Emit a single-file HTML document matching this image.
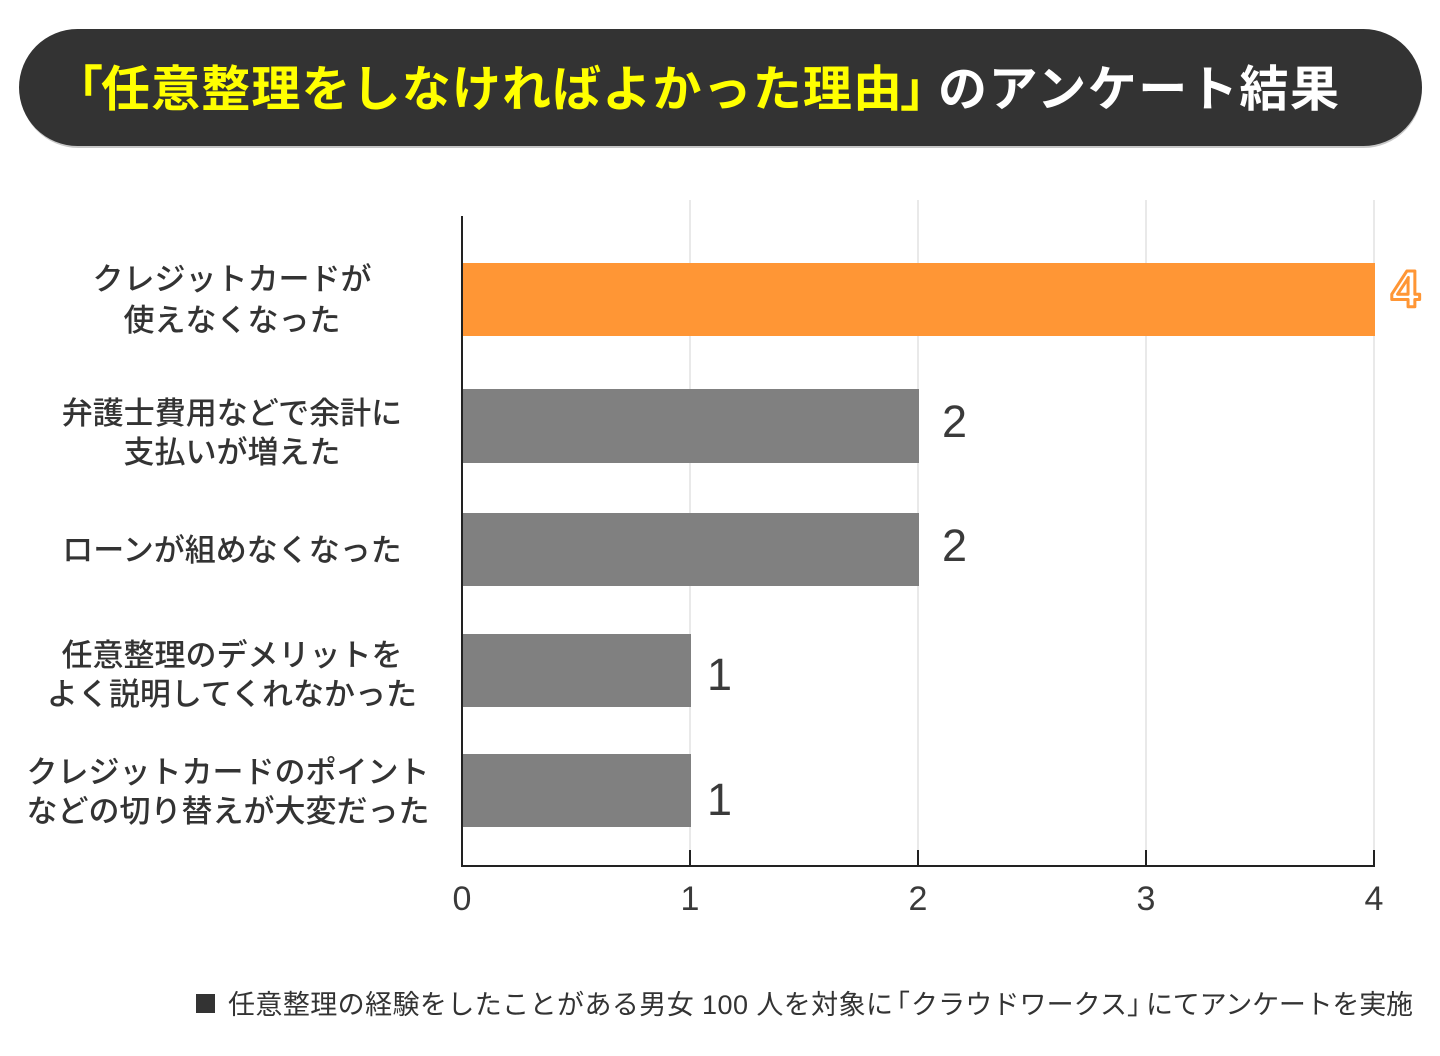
<!DOCTYPE html>
<html><head><meta charset="utf-8"><style>
html,body{margin:0;padding:0;background:#fff;}
svg{display:block;}
.jp{font-family:"Liberation Sans","Noto Sans CJK JP",sans-serif;}
.cj{font-family:"Noto Sans CJK JP",sans-serif;}
</style></head><body>
<svg width="1440" height="1056" viewBox="0 0 1440 1056" xmlns="http://www.w3.org/2000/svg">
<rect x="0" y="0" width="1440" height="1056" fill="#ffffff"/>
<!-- title pill -->
<rect x="20" y="31" width="1402" height="117" rx="58.5" ry="58.5" fill="#222" opacity="0.25"/>
<rect x="19" y="29" width="1403" height="117" rx="58.5" ry="58.5" fill="#333333"/>
<g class="jp" font-size="49" font-weight="bold">
<text x="54" y="106" fill="#ffff00">「</text>
<text x="101" y="106" fill="#ffff00" textLength="801" lengthAdjust="spacing">任意整理をしなければよかった理由</text>
<text x="900" y="106" fill="#ffff00">」</text>
<text x="938" y="106" fill="#ffffff" textLength="401" lengthAdjust="spacing">のアンケート結果</text>
</g>

<!-- gridlines -->
<g stroke="#e2e2e2" stroke-width="1.5">
<line x1="690" y1="200" x2="690" y2="850"/>
<line x1="918" y1="200" x2="918" y2="850"/>
<line x1="1146" y1="200" x2="1146" y2="850"/>
<line x1="1374" y1="200" x2="1374" y2="850"/>
</g>

<!-- bars -->
<rect x="463" y="263" width="912" height="73" fill="#ff9635"/>
<rect x="463" y="389" width="456" height="74" fill="#808080"/>
<rect x="463" y="513" width="456" height="73" fill="#808080"/>
<rect x="463" y="634" width="228" height="73" fill="#808080"/>
<rect x="463" y="754" width="228" height="73" fill="#808080"/>

<!-- axes -->
<g stroke="#222" stroke-width="2">
<line x1="462" y1="216" x2="462" y2="867"/>
<line x1="461" y1="866" x2="1375" y2="866"/>
<line x1="690" y1="850" x2="690" y2="866"/>
<line x1="918" y1="850" x2="918" y2="866"/>
<line x1="1146" y1="850" x2="1146" y2="866"/>
<line x1="1374" y1="850" x2="1374" y2="866"/>
</g>

<!-- tick labels -->
<g font-family="Liberation Sans, sans-serif" font-size="34" fill="#3a3a3a" text-anchor="middle">
<text x="462" y="910">0</text>
<text x="690" y="910">1</text>
<text x="918" y="910">2</text>
<text x="1146" y="910">3</text>
<text x="1374" y="910">4</text>
</g>

<!-- value labels -->
<g font-family="Liberation Sans, sans-serif" font-size="45" fill="#3a3a3a">
<text x="942" y="437">2</text>
<text x="942" y="561">2</text>
<text x="707" y="690">1</text>
<text x="707" y="815">1</text>
</g>
<text x="1391" y="307" font-family="Liberation Sans, sans-serif" font-size="52" font-weight="bold" fill="#ffffff" stroke="#ff9635" stroke-width="3" stroke-linejoin="round">4</text>

<!-- category labels -->
<g class="jp" font-size="31" font-weight="500" fill="#333" text-anchor="middle">
<text x="232" y="290">クレジットカードが</text>
<text x="232" y="331">使えなくなった</text>
<text x="232" y="424">弁護士費用などで余計に</text>
<text x="232" y="463">支払いが増えた</text>
<text x="232" y="561">ローンが組めなくなった</text>
<text x="232" y="666">任意整理のデメリットを</text>
<text x="232" y="705">よく説明してくれなかった</text>
<text x="228" y="783">クレジットカードのポイント</text>
<text x="228" y="822">などの切り替えが大変だった</text>
</g>

<!-- footer -->
<rect x="196" y="994" width="19" height="19" fill="#333"/>
<g class="jp" font-size="27" fill="#333">
<text x="228" y="1014" textLength="665" lengthAdjust="spacing">任意整理の経験をしたことがある男女 100 人を対象に</text>
<text x="883" y="1014">「</text>
<text x="911" y="1014" textLength="216" lengthAdjust="spacing">クラウドワークス</text>
<text x="1127" y="1014">」</text>
<text x="1146" y="1014" textLength="267" lengthAdjust="spacing">にてアンケートを実施</text>
</g>
</svg>
</body></html>
